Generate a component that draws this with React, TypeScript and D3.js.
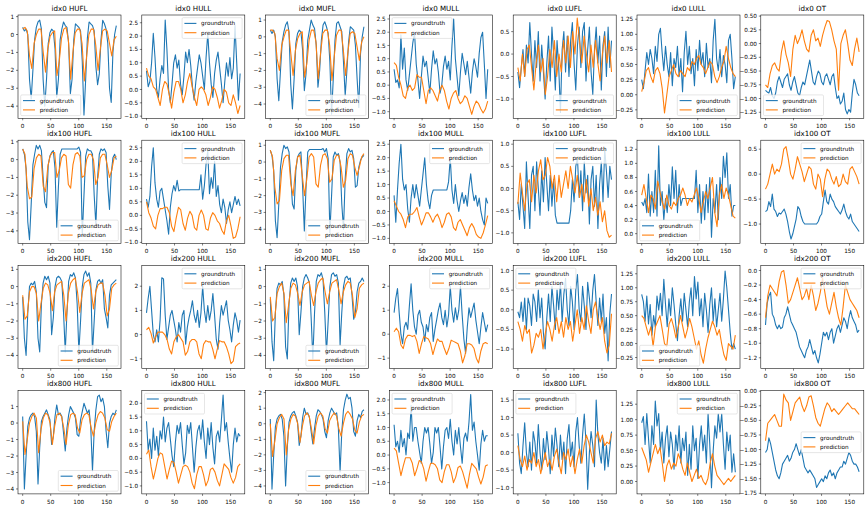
import React from "react";
import * as d3 from "d3";

const rowLabels = ["idx0", "idx100", "idx200", "idx800"];
const colLabels = ["HUFL", "HULL", "MUFL", "MULL", "LUFL", "LULL", "OT"];
const xTickValues = [0, 50, 100, 150];
const seriesNames = ["groundtruth", "prediction"];
const lastStep = 167;

// ---------- idx0 ----------
const gtIdx0Hufl = [0.4,0.2,0.3,0.0,-2.5,-3.6,-2.0,-0.3,0.4,0.7,0.8,0.3,-2.5,-4.0,-2.5,-0.5,0.1,0.3,0.2,-0.8,-3.5,-2.5,-0.3,0.3,0.7,0.5,0.4,-0.5,-3.3,-2.5,-0.3,0.6,0.5,0.4,0.2,-1.5,-4.5,-2.5,-0.2,0.7,0.6,0.5,0.2,-1.8,-2.8,-2.2,-0.3,0.8,0.6,0.3,-0.5,-3.0,-3.8,-1.0,0.0,0.5];
const predIdx0Hufl = [0.3,0.4,0.2,-1.2,-1.9,-0.5,0.0,0.3,0.3,-1.0,-2.1,-0.8,-0.1,0.1,0.2,-2.3,-1.5,-0.2,0.3,0.4,-0.3,-2.5,-1.0,0.1,0.3,0.3,-0.5,-2.6,-1.2,0.0,0.3,0.3,-0.6,-2.0,-0.8,0.2,0.3,0.2,-0.5,-1.2,-0.3,-0.1];
const gtIdx0Hull = [0.7,0.1,0.3,1.0,2.1,1.2,0.0,-0.3,0.4,0.9,0.6,2.6,1.5,0.0,-0.5,0.2,1.0,1.3,0.8,1.1,0.2,-0.2,0.5,1.4,1.0,1.5,0.9,0.1,-0.4,0.3,0.8,1.3,1.0,0.5,0.0,1.2,2.1,1.0,0.2,-0.3,0.6,1.1,1.4,0.8,0.2,-0.5,0.3,1.0,0.5,1.2,0.4,0.8,2.4,1.0,-0.4,0.6];
const predIdx0Hull = [0.8,0.5,0.4,0.1,0.0,-0.3,-0.6,0.0,0.3,0.2,-0.2,-0.7,-0.1,0.3,0.3,0.0,-0.5,-0.2,0.3,0.6,0.1,-0.3,-0.6,0.0,0.1,0.0,-0.2,-0.6,-0.3,0.1,0.0,-0.3,-0.7,-0.4,0.0,-0.1,-0.5,-0.6,-0.2,-0.5,-0.9,-0.6];
const gtIdx0Mufl = [0.4,0.2,0.4,0.0,-2.5,-3.8,-2.0,-0.3,0.3,0.7,0.9,0.3,-2.8,-4.3,-2.5,-0.4,0.2,0.4,0.3,-0.8,-3.2,-2.2,-0.2,0.4,1.0,0.7,0.5,-0.5,-3.0,-2.0,-0.2,0.7,0.9,0.6,0.2,-1.5,-4.6,-2.5,-0.2,0.8,0.9,0.6,0.3,-1.5,-3.5,-2.0,-0.3,0.6,0.5,0.4,-0.5,-2.5,-4.2,-1.0,0.0,0.6];
const predIdx0Mufl = [0.4,0.4,0.2,-1.3,-2.0,-0.5,0.0,0.4,0.4,-1.0,-2.3,-0.8,-0.1,0.2,0.3,-2.4,-1.6,-0.2,0.4,0.4,-0.3,-2.5,-1.0,0.2,0.4,0.4,-0.5,-2.6,-1.2,0.1,0.4,0.4,-0.8,-2.3,-0.9,0.2,0.3,0.2,-0.6,-1.4,-0.3,0.0];
const gtIdx0Mull = [0.6,0.1,0.2,-0.1,1.9,0.6,1.4,0.2,-0.2,0.4,1.0,1.6,2.0,0.8,0.2,-0.5,0.3,1.1,0.7,0.9,0.3,-0.3,0.6,1.3,0.8,1.0,0.5,-0.3,0.0,0.7,1.1,0.6,0.9,0.2,1.5,2.5,1.0,0.3,-0.4,0.5,1.2,0.8,0.4,0.9,0.3,-0.3,0.5,1.0,0.7,0.3,1.2,1.8,2.0,0.8,-0.5,0.6];
const predIdx0Mull = [0.85,0.75,0.3,0.0,-0.4,-0.5,-0.1,0.0,-0.2,-0.1,0.4,0.3,0.3,-0.2,-0.7,-0.2,-0.1,-0.2,-0.4,-0.6,-0.2,0.0,-0.2,-0.6,-0.9,-0.5,-0.3,-0.2,-0.5,-0.7,-0.6,-0.4,-0.5,-0.8,-1.1,-0.8,-0.6,-0.7,-0.9,-1.05,-0.9,-0.6];
const gtIdx0Lufl = [-0.4,-0.75,-0.3,0.1,-0.5,0.2,-0.2,0.7,0.0,-0.6,0.3,-0.3,0.5,-0.6,0.2,-0.4,-1.0,-0.2,0.4,-0.6,0.6,0.0,-0.8,0.3,-0.3,-1.3,0.1,0.5,-0.4,0.4,-0.5,0.3,0.7,-0.2,-0.8,0.2,0.6,-0.3,0.5,0.7,-0.6,0.1,0.6,-0.4,-0.9,0.1,0.6,-0.2,0.4,-0.8,0.2,0.5,-0.5,0.6,-0.3,0.3];
const predIdx0Lufl = [-0.3,-0.6,0.0,-0.5,0.1,0.2,-0.3,-0.8,-0.2,0.2,-0.4,-0.1,-0.9,-0.5,0.1,-0.3,0.3,-0.5,0.0,-0.4,0.3,-0.2,0.4,-0.3,0.5,0.0,0.8,0.3,-0.2,0.4,0.0,-0.4,0.2,-0.3,0.3,-0.2,-0.6,0.0,0.4,-0.2,0.3,-0.4];
const gtIdx0Lull = [0.25,0.1,0.4,0.7,0.5,0.75,0.6,0.35,0.8,0.55,1.0,1.1,0.7,0.4,0.8,0.5,0.3,0.7,0.15,0.6,0.45,0.8,0.3,0.6,0.05,0.7,1.05,0.5,0.8,0.35,0.6,0.15,0.75,0.4,0.9,0.5,0.7,0.3,0.85,0.45,0.6,0.2,0.9,1.25,0.6,0.4,0.75,0.3,0.65,0.5,0.2,0.9,1.0,0.6,0.1,0.3];
const predIdx0Lull = [0.05,0.2,0.4,0.45,0.3,0.2,0.4,0.45,0.35,0.1,-0.3,0.0,0.3,0.4,0.5,0.35,0.3,0.4,0.35,0.3,0.45,0.4,0.55,0.5,0.6,0.65,0.5,0.45,0.35,0.45,0.55,0.5,0.3,0.2,0.3,0.45,0.55,0.8,0.6,0.45,0.35,0.3];
const gtIdx0Ot = [-0.85,-0.88,-0.9,-0.8,-0.95,-1.0,-0.9,-0.7,-0.6,-0.7,-0.8,-0.65,-0.6,-0.55,-0.75,-0.85,-0.7,-0.6,-0.75,-0.9,-0.95,-0.8,-0.7,-0.75,-0.6,-0.45,-0.3,-0.5,-0.7,-0.75,-0.6,-0.5,-0.55,-0.7,-0.75,-0.6,-0.55,-0.65,-0.75,-0.6,-0.55,-0.8,-1.0,-0.95,-1.1,-1.05,-0.9,-1.2,-1.28,-1.2,-1.25,-0.9,-0.65,-0.75,-0.9,-0.95];
const predIdx0Ot = [-0.75,-0.8,-0.55,-0.4,-0.35,-0.45,-0.5,-0.15,0.05,-0.2,-0.35,-0.6,-0.1,0.15,0.0,0.1,0.25,0.05,-0.1,-0.15,0.15,0.25,0.05,0.1,-0.05,0.15,0.3,0.42,0.4,0.25,0.05,-0.1,-0.85,0.0,0.15,0.25,0.0,-0.3,-0.4,-0.1,0.1,-0.15];

// ---------- idx100 ----------
const gtIdx100Hufl = [0.6,0.3,-0.5,-3.5,-4.5,-2.5,-0.3,0.3,0.8,0.6,0.8,0.5,-1.0,-2.4,-2.7,-0.3,0.2,0.4,0.5,-0.5,-3.8,-1.5,0.3,0.6,0.6,0.6,0.6,0.6,0.6,0.6,0.6,0.6,0.6,0.7,0.4,-4.3,-2.0,0.2,0.6,0.5,0.5,0.3,-2.0,-3.7,-1.0,0.3,0.6,0.5,0.6,0.4,-1.5,-2.8,-0.8,0.1,0.3,0.0];
const predIdx100Hufl = [0.6,0.3,-1.5,-2.2,-2.1,-0.5,0.1,0.3,0.2,-1.5,-1.8,-0.4,0.2,0.4,0.4,-1.0,-0.6,0.1,0.3,0.2,-1.4,-1.6,-0.3,0.3,0.4,0.2,-1.0,-0.9,0.0,0.3,0.3,0.0,-1.4,-1.0,0.1,0.3,0.3,-0.3,-1.0,-0.6,0.1,0.2];
const gtIdx100Hull = [0.6,0.3,0.7,1.8,2.5,1.2,0.6,0.3,0.9,1.0,0.6,0.2,-0.2,-0.7,0.3,0.8,1.1,0.9,1.3,0.9,0.95,0.95,0.95,0.95,0.95,0.95,0.95,0.95,0.95,0.95,0.95,0.95,1.5,0.6,1.1,1.9,2.4,0.8,1.4,1.0,2.0,0.7,1.1,0.4,0.1,0.6,0.3,-0.3,0.2,0.5,0.1,0.4,0.7,0.4,0.6,0.35];
const predIdx100Hull = [0.5,0.1,-0.1,-0.4,-0.5,0.0,0.25,0.25,0.3,0.3,0.1,-0.4,-0.6,-0.1,0.3,0.2,-0.3,-0.55,-0.1,0.15,0.0,-0.45,-0.55,0.0,0.2,0.0,-0.5,-0.55,-0.1,0.1,0.0,-0.2,-0.3,-0.55,-0.7,-0.2,0.0,-0.4,-0.85,-0.8,-0.5,-0.05];
const gtIdx100Mufl = [0.7,0.4,-0.5,-3.5,-4.5,-2.5,-0.3,0.5,1.0,0.8,0.9,0.6,-0.8,-2.5,-2.8,-0.5,0.3,0.5,0.6,-1.5,-4.1,-1.5,0.6,0.75,0.75,0.75,0.75,0.75,0.75,0.75,0.75,0.8,0.6,0.8,0.2,-4.2,-2.0,0.3,0.6,0.4,0.5,0.0,-2.5,-4.0,-1.0,0.5,0.8,0.6,0.7,0.2,-1.5,-1.4,-0.3,0.1,0.3,0.4];
const predIdx100Mufl = [0.7,0.3,-1.5,-2.5,-2.3,-0.5,0.2,0.4,0.4,-1.3,-2.0,-0.5,0.3,0.4,-0.8,-2.0,-1.0,0.3,0.5,0.3,-1.3,-1.5,-0.2,0.4,0.5,0.2,-1.2,-1.0,0.1,0.4,0.4,-0.3,-1.5,-1.1,0.2,0.5,0.4,-0.3,-0.8,-0.3,0.3,0.5];
const gtIdx100Mull = [0.6,-0.4,0.8,1.8,2.5,1.2,0.8,1.0,0.1,-0.4,0.5,1.0,0.5,1.0,0.6,0.2,0.8,1.4,2.0,1.0,0.4,0.1,0.6,0.8,0.8,0.8,0.8,0.8,0.8,0.8,0.8,0.8,1.1,2.0,0.8,0.3,1.0,0.4,0.0,0.4,0.7,0.3,0.6,0.2,0.9,1.4,0.8,0.4,0.6,0.2,0.5,0.0,-0.3,-0.5,0.5,0.3];
const predIdx100Mull = [0.4,0.2,0.0,-0.1,-0.3,-0.6,-0.2,-0.1,-0.1,0.0,0.15,-0.2,-0.5,-0.3,-0.05,-0.05,-0.2,-0.4,-0.2,-0.1,-0.3,-0.6,-0.4,-0.1,-0.05,-0.2,-0.6,-0.7,-0.4,-0.3,-0.5,-0.7,-0.9,-0.6,-0.45,-0.6,-0.85,-0.95,-1.0,-0.8,-0.5,-0.15];
const gtIdx100Lufl = [-0.3,-0.7,0.1,-0.4,-0.9,0.6,-0.2,-0.9,0.3,0.5,-0.5,0.6,0.0,-0.6,0.4,-0.3,0.7,0.1,-0.5,0.3,-0.4,0.2,-0.6,-0.78,-0.78,-0.78,-0.78,-0.78,-0.78,-0.78,-0.78,-0.5,0.2,-0.3,0.5,0.7,-0.2,0.4,-0.5,0.6,-0.1,0.3,-0.8,0.2,0.5,-0.4,0.3,-0.9,0.1,0.6,-0.3,0.9,0.4,-0.2,0.5,0.2];
const predIdx100Lufl = [-0.35,0.35,-0.1,-0.5,0.1,0.2,-0.3,0.3,-0.1,0.4,0.65,0.2,0.3,0.7,0.5,0.0,0.3,-0.3,0.3,-0.2,0.1,0.4,0.0,0.5,0.2,-0.1,0.3,-0.2,0.1,-0.3,0.2,-0.4,0.0,-0.5,-0.2,-0.6,-0.3,-0.75,-0.5,-0.95,-1.1,-1.05];
const gtIdx100Lull = [0.45,0.4,0.5,0.3,0.85,0.25,0.6,0.3,0.9,0.25,1.25,0.4,0.6,0.2,0.5,0.3,0.7,0.4,0.95,0.5,0.9,0.3,0.7,0.4,0.5,0.5,0.5,0.5,0.5,0.5,0.5,0.5,0.9,0.3,0.7,0.15,0.6,0.2,0.7,0.3,0.8,-0.05,0.5,0.3,0.7,0.2,0.8,0.5,1.1,0.8,1.15,0.5,0.7,0.25,0.4,0.4];
const predIdx100Lull = [0.55,0.7,0.5,0.3,0.55,0.5,0.35,0.75,0.6,0.45,0.35,0.55,0.4,0.35,0.45,0.4,0.5,0.55,0.65,0.55,0.4,0.5,0.45,0.55,0.65,0.5,0.3,0.45,0.6,0.5,0.65,0.8,0.3,0.1,0.55,0.7,0.5,0.65,0.55,0.4,0.25,0.22];
const gtIdx100Ot = [-0.75,-0.72,-0.55,-0.65,-0.4,-0.7,-0.75,-0.85,-0.78,-0.8,-0.75,-0.7,-0.8,-0.95,-1.15,-1.3,-1.2,-1.05,-0.9,-0.65,-0.7,-0.85,-0.95,-1.0,-1.0,-1.0,-1.0,-1.0,-1.0,-1.0,-1.0,-0.95,-0.85,-0.8,-0.55,-0.32,-0.55,-0.6,-0.4,-0.5,-0.55,-0.65,-0.7,-0.75,-0.8,-0.72,-0.6,-0.75,-0.85,-0.9,-0.8,-0.95,-1.0,-1.05,-1.1,-1.15];
const predIdx100Ot = [-0.3,-0.2,0.0,0.2,0.0,0.1,0.05,0.2,0.5,0.55,0.3,0.0,-0.1,0.1,0.35,0.2,0.05,-0.15,0.0,0.15,0.1,-0.2,-0.3,0.0,-0.1,-0.45,-0.1,0.1,0.05,-0.1,-0.2,-0.05,-0.25,-0.2,0.0,-0.15,-0.2,0.1,0.15,0.05,-0.05,-0.2];

// ---------- idx200 ----------
const gtIdx200Hufl = [-0.6,-3.0,-4.0,-1.5,0.0,0.2,0.1,0.3,-0.3,-3.0,-3.8,-1.0,0.2,0.6,0.4,0.6,0.2,-2.8,-1.8,0.0,0.5,0.6,0.5,0.3,-1.5,-3.8,-1.5,0.3,0.7,0.6,0.8,0.5,-1.0,-3.8,-2.0,0.0,0.7,0.9,0.6,0.8,0.2,-3.8,-2.0,-0.2,0.3,0.4,0.2,0.4,-1.3,-1.8,-2.4,-0.5,0.1,0.2,0.3,0.4];
const predIdx200Hufl = [-0.5,-1.9,-1.7,-0.3,0.0,0.0,-0.4,-2.0,-1.0,-0.1,0.2,0.1,-0.4,-1.4,-0.3,0.1,0.2,0.3,-0.5,-2.0,-0.4,0.2,0.4,0.5,-0.3,-1.5,-0.4,0.2,0.3,0.4,-0.2,-1.3,-0.3,0.1,0.2,0.2,-0.5,-1.7,-1.3,-0.1,0.1,0.2];
const gtIdx200Hull = [0.9,1.5,2.0,1.0,0.0,-0.3,0.2,-0.3,0.6,2.35,2.3,0.8,-0.2,0.3,0.8,1.0,0.6,0.2,-0.3,0.5,0.1,0.8,1.0,-0.4,0.3,0.7,1.0,1.4,0.8,0.5,1.0,0.3,0.9,2.0,1.0,0.5,1.2,0.6,1.0,1.7,0.8,-0.2,-0.6,0.5,1.2,0.8,1.1,1.4,0.6,0.2,-0.3,0.4,0.9,0.6,0.1,0.6];
const predIdx200Hull = [0.2,0.3,0.05,-0.35,-0.1,0.1,0.1,0.1,0.0,-0.2,-0.6,-0.8,-0.3,-0.1,0.0,-0.15,-0.3,-0.85,-0.7,-0.3,-0.2,-0.2,-0.3,-0.8,-1.0,-0.4,-0.25,-0.3,-0.3,-0.6,-1.0,-0.6,-0.25,-0.3,-0.3,-0.5,-0.8,-1.2,-1.1,-0.5,-0.4,-0.35];
const gtIdx200Mufl = [-0.7,-3.2,-4.3,-1.5,-0.1,0.2,0.1,0.3,-0.5,-3.5,-4.2,-1.0,0.2,0.5,0.3,0.5,0.0,-2.8,-1.5,0.0,0.5,0.7,0.5,0.2,-1.8,-4.2,-1.5,0.3,0.7,0.6,0.8,0.4,-1.5,-3.9,-2.0,0.0,0.7,0.8,0.6,0.7,0.2,-3.4,-1.5,0.0,0.5,0.6,0.4,0.5,-0.5,-1.9,-1.5,-0.3,0.2,0.3,0.5,0.3];
const predIdx200Mufl = [-0.6,-2.0,-1.8,-0.4,0.0,0.2,-0.4,-2.1,-1.1,-0.1,0.2,0.1,-0.4,-1.1,-0.3,0.1,0.2,0.3,-0.5,-1.1,-0.3,0.2,0.4,0.5,-0.3,-1.0,-0.3,0.2,0.3,0.4,-0.2,-1.0,-0.3,0.1,0.3,0.2,-0.5,-1.8,-1.3,-0.1,0.1,0.2];
const gtIdx200Mull = [0.9,1.5,1.9,0.9,0.0,-0.4,0.3,0.5,0.2,1.2,2.1,1.0,0.3,0.0,0.8,1.0,0.5,0.3,-0.3,0.4,0.1,0.7,0.9,-0.3,0.2,0.6,1.0,1.3,0.7,0.4,1.0,0.3,0.8,2.0,1.0,0.5,1.1,0.6,1.0,2.0,0.8,-0.2,-0.8,0.3,1.1,0.7,1.0,1.3,0.6,0.1,-0.4,0.3,0.9,0.5,0.1,0.4];
const predIdx200Mull = [0.1,0.25,0.1,-0.45,-0.6,-0.2,-0.05,-0.05,-0.1,-0.05,-0.3,-0.8,-0.4,-0.1,-0.15,-0.2,-0.4,-0.85,-0.5,-0.2,-0.3,-0.3,-0.6,-0.85,-0.6,-0.25,-0.3,-0.35,-0.4,-0.7,-1.2,-0.9,-0.4,-0.4,-0.45,-0.6,-1.0,-1.2,-0.7,-0.4,-0.35,-0.4];
const gtIdx200Lufl = [-0.05,-0.2,0.2,-0.3,0.3,-0.5,0.3,0.1,-0.4,0.4,0.2,-0.3,0.5,-0.2,0.3,-0.6,-1.0,-0.2,0.4,-0.3,0.6,0.1,-0.5,0.5,0.0,0.7,-0.3,0.4,0.8,0.0,-0.4,0.6,0.2,-0.5,0.5,0.9,0.0,-0.3,0.6,0.1,-0.5,0.7,0.3,-0.2,0.5,0.9,0.2,-0.4,0.3,-0.3,0.4,-0.6,-0.2,-1.3,-0.1,0.4];
const predIdx200Lufl = [-0.3,-0.5,-0.8,-0.4,-0.6,-0.5,-1.1,-0.9,-0.6,-0.7,-0.5,-1.0,-0.6,-0.3,-0.5,-0.8,-0.4,-0.2,-0.6,-0.3,-0.7,-0.2,-0.5,-0.3,-0.8,-0.4,0.0,-0.6,-0.2,-0.5,0.1,-0.3,-0.6,0.0,0.2,-0.2,-0.5,-0.2,-0.8,-1.1,-0.9,-0.1];
const gtIdx200Lull = [0.88,0.75,0.4,0.85,0.35,0.7,0.15,0.5,0.3,0.85,0.6,0.9,0.5,1.15,0.7,0.3,0.8,0.5,1.0,0.7,0.35,0.05,0.5,0.8,0.4,0.9,0.6,0.3,0.75,1.0,0.5,1.2,0.8,1.1,0.5,0.8,0.3,0.9,0.6,0.2,0.7,1.0,0.4,0.8,0.3,0.6,0.9,0.4,0.8,1.3,1.0,0.6,0.2,-0.1,0.0,-0.1];
const predIdx200Lull = [0.5,0.45,0.3,0.15,0.3,-0.05,0.3,0.4,0.5,0.25,0.0,-0.05,0.35,0.45,0.3,0.1,0.3,0.5,0.3,0.1,0.25,0.45,0.3,0.1,-0.1,0.05,-0.2,-0.35,-0.1,0.1,0.25,0.4,0.3,0.15,0.25,0.0,-0.2,-0.3,0.0,-0.05,-0.1,0.15];
const gtIdx200Ot = [-0.75,-0.45,-0.35,-0.3,-0.6,-0.65,-0.75,-0.8,-0.75,-0.8,-0.78,-0.65,-0.6,-0.5,-0.6,-0.7,-0.75,-0.8,-0.85,-0.95,-1.05,-1.1,-1.15,-1.2,-1.1,-1.05,-0.95,-1.05,-1.15,-1.1,-1.2,-1.27,-1.15,-1.0,-0.85,-0.9,-0.85,-0.95,-0.85,-0.8,-1.0,-0.9,-0.8,-0.75,-0.85,-0.75,-0.65,-0.7,-0.8,-0.65,-0.55,-0.65,-0.7,-0.75,-0.85,-0.82];
const predIdx200Ot = [-0.65,-0.35,-0.2,-0.25,-0.3,-0.35,-0.15,-0.02,0.0,-0.2,-0.45,-0.4,-0.3,-0.2,-0.1,-0.25,-0.4,-0.35,-0.25,-0.4,-0.2,-0.35,-0.55,-0.45,-0.3,-0.1,-0.3,-0.5,-0.6,-0.45,-0.3,-0.5,-0.65,-0.75,-0.5,-0.2,-0.3,-0.4,-0.45,-0.5,-0.55,-0.65];

// ---------- idx800 ----------
const gtIdx800Hufl = [0.4,-4.0,-2.0,-0.2,0.3,0.5,0.6,0.4,-0.5,-3.7,-1.5,0.1,0.4,0.6,0.8,0.5,0.2,-1.3,-0.8,0.4,1.1,0.5,0.6,0.4,-0.6,-1.7,-0.3,0.5,1.0,0.8,0.6,0.3,-0.7,-0.8,0.2,0.7,1.2,0.9,0.6,0.8,-0.3,-2.9,-0.5,0.8,1.6,1.7,1.3,1.5,1.0,-0.5,-1.5,0.0,0.4,0.6,0.5,0.8];
const predIdx800Hufl = [0.1,-1.9,-1.0,0.0,0.4,0.6,0.3,-1.8,-0.4,0.3,0.6,0.5,0.0,-1.3,-0.2,0.5,0.6,0.4,-0.3,-1.3,-0.1,0.5,0.6,0.5,-0.3,-0.6,0.2,0.5,0.6,0.5,-0.3,-0.8,0.0,0.5,0.7,0.6,0.3,-0.4,-0.5,0.1,0.4,0.6];
const gtIdx800Hull = [1.35,0.3,0.7,0.0,1.1,0.3,0.8,0.1,1.0,0.7,1.5,0.6,1.1,1.3,0.7,0.1,-0.3,0.6,1.2,0.9,1.3,0.5,-0.2,0.2,1.2,0.9,1.3,0.4,-0.5,0.4,1.0,1.2,0.7,1.4,0.6,0.0,1.1,0.5,1.3,0.4,-0.2,0.8,1.0,0.6,1.4,2.3,1.0,1.3,0.6,0.0,-0.5,0.5,1.1,0.6,0.9,0.8];
const predIdx800Hull = [0.15,0.3,-0.3,-0.75,-0.4,0.0,0.2,0.15,-0.3,-0.75,-0.4,-0.1,-0.15,-0.5,-0.9,-0.6,-0.3,-0.25,-0.3,-0.5,-0.9,-1.1,-0.6,-0.3,-0.3,-0.6,-1.0,-0.8,-0.4,-0.35,-0.5,-0.8,-1.0,-0.6,-0.2,-0.3,-0.4,-0.7,-0.9,-0.7,-0.3,-0.2];
const gtIdx800Mufl = [0.3,-4.2,-2.0,-0.2,0.3,0.5,0.6,0.3,-0.8,-4.0,-1.5,0.1,0.5,0.7,0.8,0.5,0.1,-1.4,-0.8,0.4,1.0,0.6,0.7,0.4,-0.5,-1.3,-0.3,0.5,0.9,0.8,0.6,0.3,-0.5,-0.9,0.2,0.7,1.0,0.8,0.6,0.7,-0.3,-3.1,-0.5,0.9,1.5,1.9,1.6,1.7,1.0,-0.5,-0.8,0.2,0.6,0.4,0.8,0.9];
const predIdx800Mufl = [0.0,-2.1,-1.1,0.0,0.4,0.6,0.3,-2.0,-0.4,0.3,0.6,0.5,0.0,-1.2,-0.2,0.5,0.7,0.5,-0.3,-1.3,-0.1,0.5,0.7,0.5,-0.3,-0.6,0.2,0.5,0.7,0.5,-0.3,-0.8,0.0,0.6,0.8,0.6,0.3,-0.4,-0.6,0.1,0.5,0.6];
const gtIdx800Mull = [1.1,0.3,0.5,0.1,0.9,0.3,0.6,0.0,0.8,0.6,1.8,0.5,1.0,1.0,0.5,0.1,-0.3,0.5,1.0,0.8,1.0,0.4,-0.3,0.1,1.0,0.8,1.0,0.3,-0.5,0.3,0.9,1.0,0.6,1.3,0.5,0.0,0.9,0.4,1.0,0.3,-0.3,0.6,0.8,0.5,1.2,2.2,0.9,1.2,0.5,0.0,-0.55,0.4,0.9,0.5,0.7,0.7];
const predIdx800Mull = [0.25,0.15,-0.3,-0.75,-0.4,-0.1,-0.1,-0.1,-0.3,-0.75,-0.5,-0.2,-0.25,-0.5,-0.95,-0.6,-0.3,-0.3,-0.35,-0.5,-0.9,-1.0,-0.6,-0.35,-0.35,-0.6,-1.0,-0.8,-0.45,-0.4,-0.6,-0.9,-1.2,-0.7,-0.3,-0.4,-0.5,-0.8,-1.05,-0.8,-0.4,-0.35];
const gtIdx800Lufl = [0.55,-0.3,-0.6,0.2,0.85,0.0,-0.4,0.3,-0.5,0.6,0.3,-0.3,0.8,0.0,-0.5,0.4,-0.2,0.6,0.1,-0.6,0.5,-0.1,0.7,0.2,-0.4,0.5,-0.2,0.3,-0.6,0.4,0.8,-0.1,0.3,-0.4,0.6,1.0,0.2,-0.3,0.5,1.1,0.3,-1.05,0.0,0.6,0.2,-0.4,1.5,0.5,0.0,-0.3,0.4,-0.5,0.2,-0.4,0.1,0.6];
const predIdx800Lufl = [0.2,-0.2,-0.4,-0.1,-0.5,-0.2,-0.3,0.0,-0.4,-0.2,-0.6,-0.3,0.0,-0.4,-0.2,-0.5,-0.1,0.1,-0.3,-0.6,0.0,-0.2,0.1,-0.4,-0.1,-0.6,-0.2,0.1,-0.3,0.2,0.5,0.3,0.0,-0.3,0.4,0.6,0.3,0.5,0.2,0.3,0.25,0.55];
const gtIdx800Lull = [0.95,1.05,0.6,1.1,0.7,0.3,0.9,0.6,1.3,0.9,1.1,0.5,0.8,0.3,0.7,0.9,0.4,0.8,0.6,0.2,0.75,0.5,0.9,0.3,0.7,0.5,0.8,0.1,0.6,0.2,0.9,0.5,0.7,0.05,0.6,0.9,0.5,0.75,0.3,1.1,0.6,-0.1,0.5,0.9,0.7,1.1,0.8,1.1,0.6,0.2,0.8,0.5,0.75,0.15,0.45,0.15];
const predIdx800Lull = [0.55,0.45,0.35,0.15,0.3,0.45,0.6,0.45,0.55,0.3,0.0,0.25,0.35,0.2,0.3,0.25,0.45,0.35,0.2,0.1,0.3,0.15,0.0,0.1,0.2,0.05,0.1,0.0,-0.05,0.05,0.3,0.45,0.25,0.1,0.05,0.0,-0.05,0.0,0.05,0.0,0.05,0.1];
const gtIdx800Ot = [-1.05,-1.0,-0.8,-0.9,-1.05,-1.2,-1.35,-1.45,-1.5,-1.4,-1.25,-1.2,-1.15,-1.1,-1.2,-1.15,-1.05,-1.0,-0.9,-1.0,-1.1,-1.0,-1.15,-1.3,-1.35,-1.4,-1.35,-1.4,-1.45,-1.5,-1.65,-1.6,-1.55,-1.5,-1.55,-1.45,-1.5,-1.4,-1.35,-1.45,-1.4,-1.5,-1.4,-1.35,-1.3,-1.3,-1.2,-1.25,-1.15,-1.05,-1.1,-1.2,-1.25,-1.25,-1.3,-1.38];
const predIdx800Ot = [-0.85,-0.55,-0.5,-0.45,-0.4,-0.5,-0.6,-0.6,-0.05,-0.15,-0.2,-0.5,-0.35,-0.2,-0.15,-0.1,-0.25,-0.35,-0.25,-0.1,-0.08,-0.25,-0.45,-0.55,-0.6,-0.45,-0.3,-0.2,-0.25,-0.35,-0.3,-0.35,-0.4,-0.35,-0.3,-0.25,-0.2,-0.25,-0.3,-0.3,-0.35,-0.4];

const groundtruthRows = [
  [gtIdx0Hufl, gtIdx0Hull, gtIdx0Mufl, gtIdx0Mull, gtIdx0Lufl, gtIdx0Lull, gtIdx0Ot],
  [gtIdx100Hufl, gtIdx100Hull, gtIdx100Mufl, gtIdx100Mull, gtIdx100Lufl, gtIdx100Lull, gtIdx100Ot],
  [gtIdx200Hufl, gtIdx200Hull, gtIdx200Mufl, gtIdx200Mull, gtIdx200Lufl, gtIdx200Lull, gtIdx200Ot],
  [gtIdx800Hufl, gtIdx800Hull, gtIdx800Mufl, gtIdx800Mull, gtIdx800Lufl, gtIdx800Lull, gtIdx800Ot],
];
const predictionRows = [
  [predIdx0Hufl, predIdx0Hull, predIdx0Mufl, predIdx0Mull, predIdx0Lufl, predIdx0Lull, predIdx0Ot],
  [predIdx100Hufl, predIdx100Hull, predIdx100Mufl, predIdx100Mull, predIdx100Lufl, predIdx100Lull, predIdx100Ot],
  [predIdx200Hufl, predIdx200Hull, predIdx200Mufl, predIdx200Mull, predIdx200Lufl, predIdx200Lull, predIdx200Ot],
  [predIdx800Hufl, predIdx800Hull, predIdx800Mufl, predIdx800Mull, predIdx800Lufl, predIdx800Lull, predIdx800Ot],
];

// y-axis limits
const yLimitRows = [
  [[-4.68, 1.09], [-1.08, 2.79], [-4.85, 1.3], [-1.25, 2.65], [-1.43, 0.87], [-0.39, 1.32], [-1.36, 0.52]],
  [[-4.71, 1.09], [-1.04, 2.78], [-4.85, 1.3], [-1.19, 2.65], [-1.24, 1.09], [-0.14, 1.33], [-1.39, 0.68]],
  [[-4.77, 1.23], [-1.41, 2.86], [-4.77, 1.23], [-1.44, 2.87], [-1.5, 1.13], [-0.45, 1.4], [-1.35, 0.07]],
  [[-4.3, 1.97], [-1.29, 2.46], [-4.51, 2.13], [-1.41, 2.34], [-1.18, 1.77], [-0.2, 1.47], [-1.76, 0.01]],
];

const tInt = ["−4", "−3", "−2", "−1", "0", "1"];
const tHalf25 = ["−1.0", "−0.5", "0.0", "0.5", "1.0", "1.5", "2.0", "2.5"];
const yTickRows = [
  [tInt, tHalf25, tInt, tHalf25, ["−1.0", "−0.5", "0.0", "0.5"], ["−0.25", "0.00", "0.25", "0.50", "0.75", "1.00", "1.25"], ["−1.25", "−1.00", "−0.75", "−0.50", "−0.25", "0.00", "0.25", "0.50"]],
  [tInt, tHalf25, tInt, tHalf25, ["−1.0", "−0.5", "0.0", "0.5", "1.0"], ["0.0", "0.2", "0.4", "0.6", "0.8", "1.0", "1.2"], ["−1.0", "−0.5", "0.0", "0.5"]],
  [tInt, ["−1", "0", "1", "2"], tInt, ["−1", "0", "1", "2"], ["−1.0", "−0.5", "0.0", "0.5", "1.0"], ["−0.25", "0.00", "0.25", "0.50", "0.75", "1.00", "1.25"], ["−1.2", "−1.0", "−0.8", "−0.6", "−0.4", "−0.2", "0.0"]],
  [tInt, ["−1.0", "−0.5", "0.0", "0.5", "1.0", "1.5", "2.0"], ["−4", "−3", "−2", "−1", "0", "1", "2"], ["−1.0", "−0.5", "0.0", "0.5", "1.0", "1.5", "2.0"], ["−1.0", "−0.5", "0.0", "0.5", "1.0", "1.5"], ["0.00", "0.25", "0.50", "0.75", "1.00", "1.25"], ["−1.75", "−1.50", "−1.25", "−1.00", "−0.75", "−0.50", "−0.25", "0.00"]],
];

const legendLocRows = [
  ["lower left", "upper right", "lower right", "upper left", "lower right", "lower right", "lower left"],
  ["lower right", "upper right", "lower right", "upper right", "upper right", "lower left", "upper right"],
  ["lower right", "upper right", "lower right", "upper right", "upper left", "lower left", "upper right"],
  ["lower right", "upper left", "lower right", "upper left", "upper left", "upper right", "center right"],
];

const COLORS = ["#1f77b4", "#ff7f0e"];
const FONT = "'DejaVu Sans', sans-serif";
const LEFT0 = 18;
const COL_PITCH = 123.8;
const PW = 103;
const TOP0 = 15;
const ROW_PITCH = 125.2;
const PH = 103.3;
const FS_TICK = 5.7;
const FS_TITLE = 7.1;
const LEG_W = 60;
const LEG_H = 20.7;
const LEG_PAD = 2.7;
const LINE_W = 1.1;

function Panel({ row, col }: { row: number; col: number }) {
  const left = LEFT0 + col * COL_PITCH;
  const top = TOP0 + row * ROW_PITCH;
  const right = left + PW;
  const bottom = top + PH;
  const x = d3.scaleLinear().domain([-8.35, 175.35]).range([left, right]);
  const [lo, hi] = yLimitRows[row][col];
  const y = d3.scaleLinear().domain([lo, hi]).range([bottom, top]);
  const series = [groundtruthRows[row][col], predictionRows[row][col]];
  const pathOf = (arr: number[]) =>
    d3
      .line<number>()
      .x((_, i) => x((i * lastStep) / (arr.length - 1)))
      .y((d) => y(d))(arr) || "";
  const clipId = `clip-${row}-${col}`;
  const loc = legendLocRows[row][col];
  let lx = right - LEG_PAD - LEG_W;
  if (loc.includes("left")) lx = left + LEG_PAD;
  let ly = top + LEG_PAD;
  if (loc.startsWith("lower")) ly = bottom - LEG_PAD - LEG_H;
  if (loc.startsWith("center")) ly = (top + bottom) / 2 - LEG_H / 2;
  const yTicks = yTickRows[row][col];
  return (
    <g>
      <defs>
        <clipPath id={clipId}>
          <rect x={left} y={top} width={PW} height={PH} />
        </clipPath>
      </defs>
      <rect x={left} y={top} width={PW} height={PH} fill="#fff" />
      <g clipPath={`url(#${clipId})`}>
        {series.map((arr, k) => (
          <path key={k} d={pathOf(arr)} fill="none" stroke={COLORS[k]} strokeWidth={LINE_W} strokeLinejoin="round" />
        ))}
      </g>
      <rect x={left} y={top} width={PW} height={PH} fill="none" stroke="#000" strokeWidth={0.55} />
      {xTickValues.map((t) => (
        <g key={"x" + t}>
          <line x1={x(t)} x2={x(t)} y1={bottom} y2={bottom + 2} stroke="#000" strokeWidth={0.5} />
          <text x={x(t)} y={bottom + 9.6} fontSize={FS_TICK} textAnchor="middle" fill="#000">
            {t}
          </text>
        </g>
      ))}
      {yTicks.map((lab) => {
        const v = +lab.replace("−", "-");
        return (
          <g key={"y" + lab}>
            <line x1={left - 2} x2={left} y1={y(v)} y2={y(v)} stroke="#000" strokeWidth={0.5} />
            <text x={left - 3.8} y={y(v)} dy="0.36em" fontSize={FS_TICK} textAnchor="end" fill="#000">
              {lab}
            </text>
          </g>
        );
      })}
      <text x={(left + right) / 2} y={top - 4.3} fontSize={FS_TITLE} textAnchor="middle" fill="#000">
        {`${rowLabels[row]} ${colLabels[col]}`}
      </text>
      <g>
        <rect x={lx} y={ly} width={LEG_W} height={LEG_H} rx={1.2} ry={1.2} fill="#fff" fillOpacity={0.8} stroke="#cccccc" strokeWidth={0.5} />
        {seriesNames.map((name, k) => {
          const cy = ly + 5.7 + k * 9.3;
          return (
            <g key={name}>
              <line x1={lx + 2.3} x2={lx + 14.3} y1={cy} y2={cy} stroke={COLORS[k]} strokeWidth={LINE_W} />
              <text x={lx + 19} y={cy} dy="0.36em" fontSize={FS_TICK} fill="#000">
                {name}
              </text>
            </g>
          );
        })}
      </g>
    </g>
  );
}

export default function App() {
  const cells: { row: number; col: number }[] = [];
  rowLabels.forEach((_, r) => colLabels.forEach((__, c) => cells.push({ row: r, col: c })));
  return (
    <svg
      width={868}
      height={510}
      style={{ position: "absolute", left: 0, top: 0, display: "block", background: "#fff" }}
      fontFamily={FONT}
    >
      <rect x={0} y={0} width={868} height={510} fill="#fff" />
      {cells.map(({ row, col }) => (
        <Panel key={`${row}-${col}`} row={row} col={col} />
      ))}
    </svg>
  );
}
